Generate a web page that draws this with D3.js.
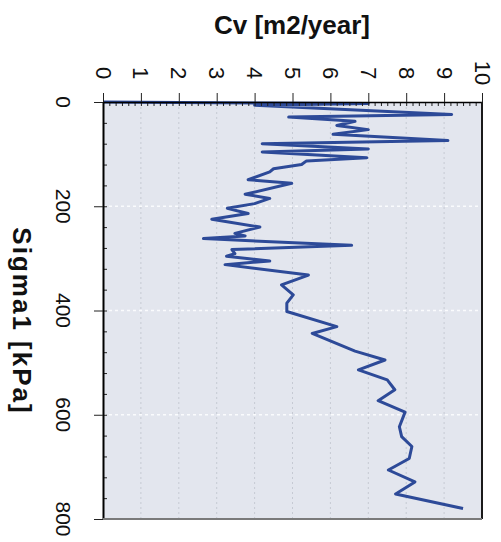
<!DOCTYPE html>
<html>
<head>
<meta charset="utf-8">
<script src="https://cdn.jsdelivr.net/npm/d3@7"></script>
<style>
  body { margin: 0; background: #fff; }
  text { font-family: "Liberation Sans", Arial, sans-serif; fill: #111; }
</style>
</head>
<body>
<div id="chart"></div>
<script>
/* global d3 */

// data (Sigma1 in kPa, Cv in m2/year)
var sigma1 = [0, 3, 6, 24, 29, 37, 45, 53, 62, 74, 80, 90, 96, 107, 113, 120, 128, 134,
  149, 156, 177, 185, 195, 204, 214, 225, 240, 252, 257, 262, 275, 283, 291, 296, 305,
  312, 332, 351, 370, 386, 402, 431, 444, 478, 495, 514, 533, 552, 573, 595, 623, 642,
  661, 684, 706, 729, 752, 780];
var cv = [0, 7.0, 4.0, 9.2, 4.9, 6.65, 6.17, 7.0, 6.07, 9.1, 4.2, 7.0, 4.2, 6.96, 5.37,
  5.24, 4.5, 4.4, 3.83, 4.98, 3.75, 4.4, 4.0, 3.28, 3.83, 2.87, 4.14, 3.48, 3.75, 2.65,
  6.56, 3.4, 3.48, 3.26, 4.4, 3.22, 5.42, 4.71, 5.02, 4.85, 4.85, 6.17, 5.52, 6.65,
  7.44, 6.74, 7.5, 7.7, 7.26, 7.97, 7.82, 7.88, 8.15, 8.08, 7.53, 8.23, 7.72, 9.5];

var cvTicks = [0, 1, 2, 3, 4, 5, 6, 7, 8, 9, 10];
var sigmaTicks = [0, 200, 400, 600, 800];

var
  width = 501,
  height = 542,
  margin = { top: 102, right: 19, bottom: 23, left: 103 },
  lineColor = '#2d4a98',
  xScale = d3.scaleLinear()
    .domain([0, 10])
    .range([margin.left, width - margin.right]),
  yScale = d3.scaleLinear()
    .domain([0, 800])
    .range([margin.top, height - margin.bottom]);

function translation(x, y) {
  return 'translate(' + x + ',' + y + ')';
}

var svg = d3.select('#chart').append('svg')
  .attr('width', width)
  .attr('height', height);

// plot background
svg.append('rect')
  .attr('x', xScale(0))
  .attr('y', yScale(0))
  .attr('width', xScale(10) - xScale(0))
  .attr('height', yScale(800) - yScale(0))
  .attr('fill', '#e3e6ee');

// GRID
svg.append('g').selectAll('line')
  .data(cvTicks.slice(1, -1))
  .enter().append('line')
  .attr('x1', function (d) { return xScale(d); })
  .attr('x2', function (d) { return xScale(d); })
  .attr('y1', yScale(0))
  .attr('y2', yScale(800))
  .attr('stroke', '#c6cad3')
  .attr('stroke-width', 1)
  .attr('stroke-dasharray', '2,3');

svg.append('g').selectAll('line')
  .data(sigmaTicks.slice(1, -1))
  .enter().append('line')
  .attr('x1', xScale(0))
  .attr('x2', xScale(10))
  .attr('y1', function (d) { return yScale(d); })
  .attr('y2', function (d) { return yScale(d); })
  .attr('stroke', '#fafbfd')
  .attr('stroke-width', 1.6)
  .attr('stroke-dasharray', '3,3');

// DATA LINE
var line = d3.line()
  .x(function (d) { return xScale(d[1]); })
  .y(function (d) { return yScale(d[0]); });

svg.append('path')
  .datum(d3.zip(sigma1, cv))
  .attr('d', line)
  .attr('fill', 'none')
  .attr('stroke', lineColor)
  .attr('stroke-width', 3)
  .attr('stroke-linejoin', 'round');

// AXES
var xAxis = d3.axisTop(xScale)
  .tickValues(cvTicks)
  .tickSize(9)
  .tickSizeOuter(0)
  .tickFormat('');

var xAxisMinor = d3.axisTop(xScale)
  .tickValues(d3.range(0, 60).map(function (i) { return i / 6; }))
  .tickSize(-4)
  .tickFormat('');

var yAxis = d3.axisLeft(yScale)
  .tickValues(sigmaTicks)
  .tickSize(9)
  .tickSizeOuter(0)
  .tickFormat('');

var yAxisMinor = d3.axisLeft(yScale)
  .tickValues(d3.range(0, 800, 40))
  .tickSize(-4)
  .tickFormat('');

svg.append('g')
  .attr('transform', translation(0, yScale(0)))
  .call(xAxisMinor)
  .call(function (g) { g.select('.domain').remove(); });

svg.append('g')
  .attr('transform', translation(xScale(0), 0))
  .call(yAxisMinor)
  .call(function (g) { g.select('.domain').remove(); });

svg.append('g')
  .attr('transform', translation(0, yScale(0)))
  .call(xAxis)
  .call(function (g) { g.select('.domain').attr('stroke-width', 1.6); });

svg.append('g')
  .attr('transform', translation(xScale(0), 0))
  .call(yAxis)
  .call(function (g) { g.select('.domain').attr('stroke-width', 2); });

svg.selectAll('.tick line').attr('stroke', '#222');

// frame right and bottom
svg.append('line')
  .attr('x1', xScale(10)).attr('x2', xScale(10))
  .attr('y1', yScale(0)).attr('y2', yScale(800))
  .attr('stroke', '#1a1a1a').attr('stroke-width', 2);

svg.append('line')
  .attr('x1', xScale(0)).attr('x2', xScale(10))
  .attr('y1', yScale(800)).attr('y2', yScale(800))
  .attr('stroke', '#7a7a7a').attr('stroke-width', 2);

// TICK LABELS (rotated 90 degrees, like the scanned figure)
svg.append('g').selectAll('text')
  .data(cvTicks)
  .enter().append('text')
  .attr('transform', function (d) { return translation(xScale(d) - 7.5, 73) + 'rotate(90)'; })
  .attr('text-anchor', 'middle')
  .style('font-size', '22px')
  .text(function (d) { return d; });

svg.append('g').selectAll('text')
  .data(sigmaTicks)
  .enter().append('text')
  .attr('transform', function (d) { return translation(56, yScale(d)) + 'rotate(90)'; })
  .attr('text-anchor', 'middle')
  .style('font-size', '21px')
  .text(function (d) { return d; });

// AXIS TITLES
svg.append('text')
  .attr('x', 292)
  .attr('y', 34)
  .attr('text-anchor', 'middle')
  .style('font-size', '26px')
  .style('font-weight', 'bold')
  .text('Cv [m2/year]');

svg.append('text')
  .attr('transform', translation(13, 321) + 'rotate(90)')
  .attr('text-anchor', 'middle')
  .style('font-size', '26px')
  .style('font-weight', 'bold')
  .style('letter-spacing', '2px')
  .text('Sigma1 [kPa]');
</script>
</body>
</html>
